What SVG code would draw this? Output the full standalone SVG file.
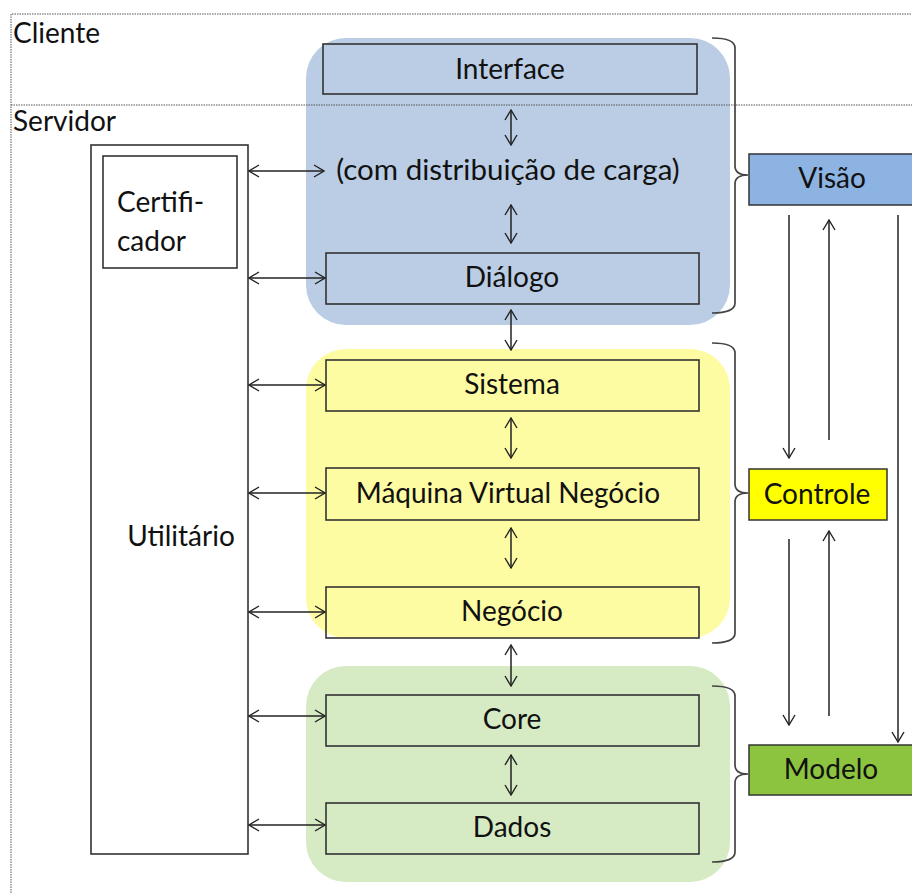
<svg xmlns="http://www.w3.org/2000/svg" width="912" height="893" viewBox="0 0 912 893">
<defs>
<marker id="ah" viewBox="0 0 12 14" refX="11" refY="7" markerWidth="12" markerHeight="14" markerUnits="userSpaceOnUse" orient="auto-start-reverse">
<path d="M1,1 L11,7 L1,13" fill="none" stroke="#222" stroke-width="1.4"/>
</marker>
<style>
.t{font-family:Lato,"Liberation Sans",sans-serif;font-size:28px;fill:#111}
.box{fill:none;stroke:#333;stroke-width:1.6}
.ar{stroke:#222;stroke-width:1.5;fill:none;marker-end:url(#ah)}
.dar{stroke:#222;stroke-width:1.5;fill:none;marker-end:url(#ah);marker-start:url(#ah)}
.br{fill:none;stroke:#444;stroke-width:1.7}
.dot{stroke:#555;stroke-width:1;stroke-dasharray:1.5 1;fill:none}
</style>
</defs>
<rect width="912" height="893" fill="#fff"/>
<!-- backgrounds -->
<rect x="306" y="38" width="424" height="287" rx="40" fill="#BACDE4"/>
<rect x="306" y="349" width="424" height="289" rx="40" fill="#FEFCA2"/>
<rect x="306" y="666" width="424" height="216" rx="40" fill="#D6EBC3"/>
<!-- frame -->
<path class="dot" d="M11,893 V14 H912 M11,105 H912"/>
<text class="t" x="13" y="43">Cliente</text>
<text class="t" x="13" y="131">Servidor</text>
<g id="utilitario">
<rect class="box" x="91" y="145" width="157" height="709" fill="#fff"/>
<text class="t" x="181" y="546" text-anchor="middle">Utilitário</text>
</g>
<g id="certificador">
<rect class="box" x="103" y="156" width="134" height="112"/>
<text class="t" x="117" y="212">Certifi-</text>
<text class="t" x="117" y="251">cador</text>
</g>
<g id="interface"><rect class="box" x="323" y="44" width="374" height="50"/><text class="t" x="510" y="79" text-anchor="middle">Interface</text></g>
<g id="distribuicao"><text class="t" x="508" y="180" text-anchor="middle" style="font-size:29.5px">(com distribuição de carga)</text></g>
<g id="dialogo"><rect class="box" x="326" y="253" width="373" height="51"/><text class="t" x="512" y="287" text-anchor="middle">Diálogo</text></g>
<g id="sistema"><rect class="box" x="326" y="360" width="373" height="51"/><text class="t" x="512" y="394" text-anchor="middle">Sistema</text></g>
<g id="maquina"><rect class="box" x="326" y="468" width="373" height="52"/><text class="t" x="508" y="503" text-anchor="middle">Máquina Virtual Negócio</text></g>
<g id="negocio"><rect class="box" x="326" y="587" width="373" height="51"/><text class="t" x="512" y="621" text-anchor="middle">Negócio</text></g>
<g id="core"><rect class="box" x="326" y="695" width="373" height="51"/><text class="t" x="512" y="729" text-anchor="middle">Core</text></g>
<g id="dados"><rect class="box" x="326" y="803" width="373" height="51"/><text class="t" x="512" y="837" text-anchor="middle">Dados</text></g>
<g id="visao"><rect x="749" y="154" width="170" height="51" fill="#8DB3E2" stroke="#333" stroke-width="1.5"/><text class="t" x="832" y="188" text-anchor="middle">Visão</text></g>
<g id="controle"><rect x="749" y="469" width="138" height="51" fill="#FFFF00" stroke="#333" stroke-width="1.5"/><text class="t" x="817" y="504" text-anchor="middle">Controle</text></g>
<g id="modelo"><rect x="749" y="745" width="170" height="50" fill="#8CC43F" stroke="#333" stroke-width="1.5"/><text class="t" x="831" y="779" text-anchor="middle">Modelo</text></g>
<g id="braces">
<path class="br" d="M712,38 Q735,38 735,48 V166 Q735,175 748,175 Q735,175 735,184 V303 Q735,313 712,313"/>
<path class="br" d="M712,343 Q735,343 735,353 V484 Q735,493 748,493 Q735,493 735,502 V633 Q735,643 712,643"/>
<path class="br" d="M712,686 Q735,686 735,696 V765 Q735,774 748,774 Q735,774 735,783 V852 Q735,862 712,862"/>
</g>
<g id="connectors">
<line class="dar" x1="511" y1="110" x2="511" y2="145"/>
<line class="dar" x1="511" y1="205" x2="511" y2="243"/>
<line class="dar" x1="511" y1="310" x2="511" y2="350"/>
<line class="dar" x1="511" y1="418" x2="511" y2="458"/>
<line class="dar" x1="511" y1="528" x2="511" y2="568"/>
<line class="dar" x1="511" y1="645" x2="511" y2="686"/>
<line class="dar" x1="511" y1="755" x2="511" y2="795"/>
<line class="dar" x1="249" y1="171" x2="324" y2="171"/>
<line class="dar" x1="249" y1="278" x2="325" y2="278"/>
<line class="dar" x1="249" y1="385" x2="325" y2="385"/>
<line class="dar" x1="249" y1="493" x2="325" y2="493"/>
<line class="dar" x1="249" y1="612" x2="325" y2="612"/>
<line class="dar" x1="249" y1="716" x2="325" y2="716"/>
<line class="dar" x1="249" y1="825" x2="325" y2="825"/>
<line class="ar" x1="789" y1="215" x2="789" y2="458"/>
<line class="ar" x1="829" y1="440" x2="829" y2="220"/>
<line class="ar" x1="898" y1="215" x2="898" y2="742"/>
<line class="ar" x1="789" y1="539" x2="789" y2="725"/>
<line class="ar" x1="829" y1="716" x2="829" y2="531"/>
</g>
</svg>
